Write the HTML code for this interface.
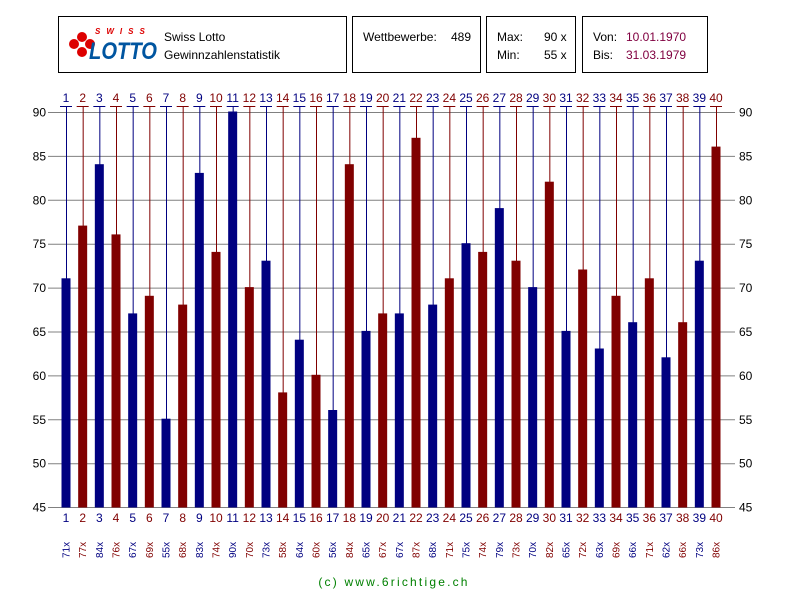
<!DOCTYPE html>
<html><head><meta charset="utf-8"><style>
body{margin:0;background:#fff;}
svg{display:block;font-family:"Liberation Sans",sans-serif;}
.b{fill:#000080;stroke:#000080}
.r{fill:#800000;stroke:#800000}
.b text,.r text{stroke:none}
</style></head><body>
<svg width="800" height="600" viewBox="0 0 800 600" xmlns="http://www.w3.org/2000/svg">
<rect width="800" height="600" fill="#fff"/>
<g fill="none" stroke="#000" stroke-width="1">
<rect x="58.5" y="16.5" width="288" height="56"/>
<rect x="352.5" y="16.5" width="128" height="56"/>
<rect x="486.5" y="16.5" width="89" height="56"/>
<rect x="582.5" y="16.5" width="125" height="56"/>
</g>
<circle cx="74" cy="44" r="5" fill="#d00"/><circle cx="82" cy="37" r="5" fill="#d00"/><circle cx="82" cy="52" r="5" fill="#d00"/><circle cx="90" cy="44" r="5" fill="#d00"/>
<text x="95" y="34" font-size="8" font-weight="bold" font-style="italic" fill="#d00" letter-spacing="6">SWISS</text>
<text x="89" y="59" font-size="24" font-weight="bold" font-style="italic" fill="#0055a0" textLength="68" lengthAdjust="spacingAndGlyphs">LOTTO</text>
<g font-size="12" fill="#000">
<text x="164" y="41">Swiss Lotto</text>
<text x="164" y="59">Gewinnzahlenstatistik</text>
<text x="363" y="41">Wettbewerbe:</text><text x="451" y="41">489</text>
<text x="497" y="41">Max:</text><text x="544" y="41">90 x</text>
<text x="497" y="59">Min:</text><text x="544" y="59">55 x</text>
<text x="593" y="41">Von:</text><text x="593" y="59">Bis:</text>
<text x="626" y="41" fill="#800040">10.01.1970</text><text x="626" y="59" fill="#800040">31.03.1979</text>
</g>
<g stroke="#808080" stroke-width="1">
<line x1="48" y1="112.5" x2="735" y2="112.5"/><line x1="48" y1="156.4" x2="735" y2="156.4"/><line x1="48" y1="200.3" x2="735" y2="200.3"/><line x1="48" y1="244.2" x2="735" y2="244.2"/><line x1="48" y1="288.1" x2="735" y2="288.1"/><line x1="48" y1="332" x2="735" y2="332"/><line x1="48" y1="375.9" x2="735" y2="375.9"/><line x1="48" y1="419.8" x2="735" y2="419.8"/><line x1="48" y1="463.7" x2="735" y2="463.7"/><line x1="48" y1="507.5" x2="735" y2="507.5"/>
</g>
<g font-size="12" fill="#000">
<text x="46" y="116.5" text-anchor="end">90</text><text x="46" y="160.4" text-anchor="end">85</text><text x="46" y="204.3" text-anchor="end">80</text><text x="46" y="248.2" text-anchor="end">75</text><text x="46" y="292.1" text-anchor="end">70</text><text x="46" y="336" text-anchor="end">65</text><text x="46" y="379.9" text-anchor="end">60</text><text x="46" y="423.8" text-anchor="end">55</text><text x="46" y="467.7" text-anchor="end">50</text><text x="46" y="511.5" text-anchor="end">45</text>
<text x="739" y="116.5">90</text><text x="739" y="160.4">85</text><text x="739" y="204.3">80</text><text x="739" y="248.2">75</text><text x="739" y="292.1">70</text><text x="739" y="336">65</text><text x="739" y="379.9">60</text><text x="739" y="423.8">55</text><text x="739" y="467.7">50</text><text x="739" y="511.5">45</text>
</g>
<defs>
<g id="t"><line x1="-6" y1="106.5" x2="6" y2="106.5"/></g>
</defs>
<g font-size="12" text-anchor="middle">
<g class="b" transform="translate(66,0)"><use href="#t"/><line x1="0.5" y1="106" x2="0.5" y2="279"/><rect x="-4" y="278.8" width="8" height="228.2"/><text y="102">1</text><text y="522">1</text><text font-size="10" transform="translate(3.5,558) rotate(-90)" text-anchor="start">71x</text></g>
<g class="r" transform="translate(82.67,0)"><use href="#t"/><line x1="0.5" y1="106" x2="0.5" y2="227"/><rect x="-4" y="226.1" width="8" height="280.9"/><text y="102">2</text><text y="522">2</text><text font-size="10" transform="translate(3.5,558) rotate(-90)" text-anchor="start">77x</text></g>
<g class="b" transform="translate(99.33,0)"><use href="#t"/><line x1="0.5" y1="106" x2="0.5" y2="165"/><rect x="-4" y="164.7" width="8" height="342.3"/><text y="102">3</text><text y="522">3</text><text font-size="10" transform="translate(3.5,558) rotate(-90)" text-anchor="start">84x</text></g>
<g class="r" transform="translate(116,0)"><use href="#t"/><line x1="0.5" y1="106" x2="0.5" y2="235"/><rect x="-4" y="234.9" width="8" height="272.1"/><text y="102">4</text><text y="522">4</text><text font-size="10" transform="translate(3.5,558) rotate(-90)" text-anchor="start">76x</text></g>
<g class="b" transform="translate(132.67,0)"><use href="#t"/><line x1="0.5" y1="106" x2="0.5" y2="314"/><rect x="-4" y="313.9" width="8" height="193.1"/><text y="102">5</text><text y="522">5</text><text font-size="10" transform="translate(3.5,558) rotate(-90)" text-anchor="start">67x</text></g>
<g class="r" transform="translate(149.33,0)"><use href="#t"/><line x1="0.5" y1="106" x2="0.5" y2="297"/><rect x="-4" y="296.3" width="8" height="210.7"/><text y="102">6</text><text y="522">6</text><text font-size="10" transform="translate(3.5,558) rotate(-90)" text-anchor="start">69x</text></g>
<g class="b" transform="translate(166,0)"><use href="#t"/><line x1="0.5" y1="106" x2="0.5" y2="420"/><rect x="-4" y="419.2" width="8" height="87.8"/><text y="102">7</text><text y="522">7</text><text font-size="10" transform="translate(3.5,558) rotate(-90)" text-anchor="start">55x</text></g>
<g class="r" transform="translate(182.67,0)"><use href="#t"/><line x1="0.5" y1="106" x2="0.5" y2="306"/><rect x="-4" y="305.1" width="8" height="201.9"/><text y="102">8</text><text y="522">8</text><text font-size="10" transform="translate(3.5,558) rotate(-90)" text-anchor="start">68x</text></g>
<g class="b" transform="translate(199.33,0)"><use href="#t"/><line x1="0.5" y1="106" x2="0.5" y2="174"/><rect x="-4" y="173.4" width="8" height="333.6"/><text y="102">9</text><text y="522">9</text><text font-size="10" transform="translate(3.5,558) rotate(-90)" text-anchor="start">83x</text></g>
<g class="r" transform="translate(216,0)"><use href="#t"/><line x1="0.5" y1="106" x2="0.5" y2="253"/><rect x="-4" y="252.4" width="8" height="254.6"/><text y="102">10</text><text y="522">10</text><text font-size="10" transform="translate(3.5,558) rotate(-90)" text-anchor="start">74x</text></g>
<g class="b" transform="translate(232.67,0)"><use href="#t"/><line x1="0.5" y1="106" x2="0.5" y2="112"/><rect x="-4" y="112" width="8" height="395"/><text y="102">11</text><text y="522">11</text><text font-size="10" transform="translate(3.5,558) rotate(-90)" text-anchor="start">90x</text></g>
<g class="r" transform="translate(249.33,0)"><use href="#t"/><line x1="0.5" y1="106" x2="0.5" y2="288"/><rect x="-4" y="287.6" width="8" height="219.4"/><text y="102">12</text><text y="522">12</text><text font-size="10" transform="translate(3.5,558) rotate(-90)" text-anchor="start">70x</text></g>
<g class="b" transform="translate(266,0)"><use href="#t"/><line x1="0.5" y1="106" x2="0.5" y2="262"/><rect x="-4" y="261.2" width="8" height="245.8"/><text y="102">13</text><text y="522">13</text><text font-size="10" transform="translate(3.5,558) rotate(-90)" text-anchor="start">73x</text></g>
<g class="r" transform="translate(282.67,0)"><use href="#t"/><line x1="0.5" y1="106" x2="0.5" y2="393"/><rect x="-4" y="392.9" width="8" height="114.1"/><text y="102">14</text><text y="522">14</text><text font-size="10" transform="translate(3.5,558) rotate(-90)" text-anchor="start">58x</text></g>
<g class="b" transform="translate(299.33,0)"><use href="#t"/><line x1="0.5" y1="106" x2="0.5" y2="341"/><rect x="-4" y="340.2" width="8" height="166.8"/><text y="102">15</text><text y="522">15</text><text font-size="10" transform="translate(3.5,558) rotate(-90)" text-anchor="start">64x</text></g>
<g class="r" transform="translate(316,0)"><use href="#t"/><line x1="0.5" y1="106" x2="0.5" y2="376"/><rect x="-4" y="375.3" width="8" height="131.7"/><text y="102">16</text><text y="522">16</text><text font-size="10" transform="translate(3.5,558) rotate(-90)" text-anchor="start">60x</text></g>
<g class="b" transform="translate(332.67,0)"><use href="#t"/><line x1="0.5" y1="106" x2="0.5" y2="411"/><rect x="-4" y="410.5" width="8" height="96.5"/><text y="102">17</text><text y="522">17</text><text font-size="10" transform="translate(3.5,558) rotate(-90)" text-anchor="start">56x</text></g>
<g class="r" transform="translate(349.33,0)"><use href="#t"/><line x1="0.5" y1="106" x2="0.5" y2="165"/><rect x="-4" y="164.7" width="8" height="342.3"/><text y="102">18</text><text y="522">18</text><text font-size="10" transform="translate(3.5,558) rotate(-90)" text-anchor="start">84x</text></g>
<g class="b" transform="translate(366,0)"><use href="#t"/><line x1="0.5" y1="106" x2="0.5" y2="332"/><rect x="-4" y="331.4" width="8" height="175.6"/><text y="102">19</text><text y="522">19</text><text font-size="10" transform="translate(3.5,558) rotate(-90)" text-anchor="start">65x</text></g>
<g class="r" transform="translate(382.67,0)"><use href="#t"/><line x1="0.5" y1="106" x2="0.5" y2="314"/><rect x="-4" y="313.9" width="8" height="193.1"/><text y="102">20</text><text y="522">20</text><text font-size="10" transform="translate(3.5,558) rotate(-90)" text-anchor="start">67x</text></g>
<g class="b" transform="translate(399.33,0)"><use href="#t"/><line x1="0.5" y1="106" x2="0.5" y2="314"/><rect x="-4" y="313.9" width="8" height="193.1"/><text y="102">21</text><text y="522">21</text><text font-size="10" transform="translate(3.5,558) rotate(-90)" text-anchor="start">67x</text></g>
<g class="r" transform="translate(416,0)"><use href="#t"/><line x1="0.5" y1="106" x2="0.5" y2="139"/><rect x="-4" y="138.3" width="8" height="368.7"/><text y="102">22</text><text y="522">22</text><text font-size="10" transform="translate(3.5,558) rotate(-90)" text-anchor="start">87x</text></g>
<g class="b" transform="translate(432.67,0)"><use href="#t"/><line x1="0.5" y1="106" x2="0.5" y2="306"/><rect x="-4" y="305.1" width="8" height="201.9"/><text y="102">23</text><text y="522">23</text><text font-size="10" transform="translate(3.5,558) rotate(-90)" text-anchor="start">68x</text></g>
<g class="r" transform="translate(449.33,0)"><use href="#t"/><line x1="0.5" y1="106" x2="0.5" y2="279"/><rect x="-4" y="278.8" width="8" height="228.2"/><text y="102">24</text><text y="522">24</text><text font-size="10" transform="translate(3.5,558) rotate(-90)" text-anchor="start">71x</text></g>
<g class="b" transform="translate(466,0)"><use href="#t"/><line x1="0.5" y1="106" x2="0.5" y2="244"/><rect x="-4" y="243.7" width="8" height="263.3"/><text y="102">25</text><text y="522">25</text><text font-size="10" transform="translate(3.5,558) rotate(-90)" text-anchor="start">75x</text></g>
<g class="r" transform="translate(482.67,0)"><use href="#t"/><line x1="0.5" y1="106" x2="0.5" y2="253"/><rect x="-4" y="252.4" width="8" height="254.6"/><text y="102">26</text><text y="522">26</text><text font-size="10" transform="translate(3.5,558) rotate(-90)" text-anchor="start">74x</text></g>
<g class="b" transform="translate(499.33,0)"><use href="#t"/><line x1="0.5" y1="106" x2="0.5" y2="209"/><rect x="-4" y="208.6" width="8" height="298.4"/><text y="102">27</text><text y="522">27</text><text font-size="10" transform="translate(3.5,558) rotate(-90)" text-anchor="start">79x</text></g>
<g class="r" transform="translate(516,0)"><use href="#t"/><line x1="0.5" y1="106" x2="0.5" y2="262"/><rect x="-4" y="261.2" width="8" height="245.8"/><text y="102">28</text><text y="522">28</text><text font-size="10" transform="translate(3.5,558) rotate(-90)" text-anchor="start">73x</text></g>
<g class="b" transform="translate(532.67,0)"><use href="#t"/><line x1="0.5" y1="106" x2="0.5" y2="288"/><rect x="-4" y="287.6" width="8" height="219.4"/><text y="102">29</text><text y="522">29</text><text font-size="10" transform="translate(3.5,558) rotate(-90)" text-anchor="start">70x</text></g>
<g class="r" transform="translate(549.33,0)"><use href="#t"/><line x1="0.5" y1="106" x2="0.5" y2="183"/><rect x="-4" y="182.2" width="8" height="324.8"/><text y="102">30</text><text y="522">30</text><text font-size="10" transform="translate(3.5,558) rotate(-90)" text-anchor="start">82x</text></g>
<g class="b" transform="translate(566,0)"><use href="#t"/><line x1="0.5" y1="106" x2="0.5" y2="332"/><rect x="-4" y="331.4" width="8" height="175.6"/><text y="102">31</text><text y="522">31</text><text font-size="10" transform="translate(3.5,558) rotate(-90)" text-anchor="start">65x</text></g>
<g class="r" transform="translate(582.67,0)"><use href="#t"/><line x1="0.5" y1="106" x2="0.5" y2="270"/><rect x="-4" y="270" width="8" height="237"/><text y="102">32</text><text y="522">32</text><text font-size="10" transform="translate(3.5,558) rotate(-90)" text-anchor="start">72x</text></g>
<g class="b" transform="translate(599.33,0)"><use href="#t"/><line x1="0.5" y1="106" x2="0.5" y2="349"/><rect x="-4" y="349" width="8" height="158"/><text y="102">33</text><text y="522">33</text><text font-size="10" transform="translate(3.5,558) rotate(-90)" text-anchor="start">63x</text></g>
<g class="r" transform="translate(616,0)"><use href="#t"/><line x1="0.5" y1="106" x2="0.5" y2="297"/><rect x="-4" y="296.3" width="8" height="210.7"/><text y="102">34</text><text y="522">34</text><text font-size="10" transform="translate(3.5,558) rotate(-90)" text-anchor="start">69x</text></g>
<g class="b" transform="translate(632.67,0)"><use href="#t"/><line x1="0.5" y1="106" x2="0.5" y2="323"/><rect x="-4" y="322.7" width="8" height="184.3"/><text y="102">35</text><text y="522">35</text><text font-size="10" transform="translate(3.5,558) rotate(-90)" text-anchor="start">66x</text></g>
<g class="r" transform="translate(649.33,0)"><use href="#t"/><line x1="0.5" y1="106" x2="0.5" y2="279"/><rect x="-4" y="278.8" width="8" height="228.2"/><text y="102">36</text><text y="522">36</text><text font-size="10" transform="translate(3.5,558) rotate(-90)" text-anchor="start">71x</text></g>
<g class="b" transform="translate(666,0)"><use href="#t"/><line x1="0.5" y1="106" x2="0.5" y2="358"/><rect x="-4" y="357.8" width="8" height="149.2"/><text y="102">37</text><text y="522">37</text><text font-size="10" transform="translate(3.5,558) rotate(-90)" text-anchor="start">62x</text></g>
<g class="r" transform="translate(682.67,0)"><use href="#t"/><line x1="0.5" y1="106" x2="0.5" y2="323"/><rect x="-4" y="322.7" width="8" height="184.3"/><text y="102">38</text><text y="522">38</text><text font-size="10" transform="translate(3.5,558) rotate(-90)" text-anchor="start">66x</text></g>
<g class="b" transform="translate(699.33,0)"><use href="#t"/><line x1="0.5" y1="106" x2="0.5" y2="262"/><rect x="-4" y="261.2" width="8" height="245.8"/><text y="102">39</text><text y="522">39</text><text font-size="10" transform="translate(3.5,558) rotate(-90)" text-anchor="start">73x</text></g>
<g class="r" transform="translate(716,0)"><use href="#t"/><line x1="0.5" y1="106" x2="0.5" y2="148"/><rect x="-4" y="147.1" width="8" height="359.9"/><text y="102">40</text><text y="522">40</text><text font-size="10" transform="translate(3.5,558) rotate(-90)" text-anchor="start">86x</text></g>
</g>
<text x="394" y="586" font-size="12" fill="#008000" text-anchor="middle" letter-spacing="2.2">(c) www.6richtige.ch</text>
</svg>
</body></html>
